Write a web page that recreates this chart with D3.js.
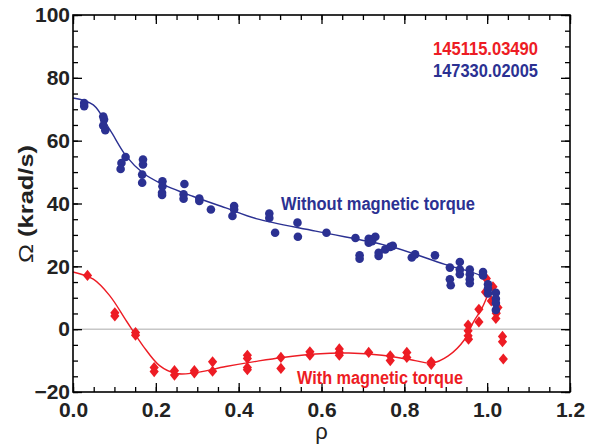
<!DOCTYPE html>
<html>
<head>
<meta charset="utf-8">
<script src="https://cdn.jsdelivr.net/npm/d3@7"></script>
<style>
  body { margin: 0; background: #fff; }
  svg { font-family: "Liberation Sans", Arial, sans-serif; }
</style>
</head>
<body>
<svg width="597" height="445"></svg>
<script>
// measured points, without magnetic torque (shot 147330)
const blueRho = [0.027, 0.027, 0.073, 0.075, 0.073, 0.078, 0.127, 0.117, 0.115, 0.169, 0.169, 0.167, 0.167,
  0.216, 0.216, 0.215, 0.215, 0.269, 0.267, 0.267, 0.305, 0.305, 0.333, 0.389, 0.389, 0.385,
  0.474, 0.474, 0.488, 0.542, 0.543, 0.612, 0.682, 0.692, 0.692, 0.714, 0.722, 0.730, 0.714, 0.722,
  0.738, 0.738, 0.754, 0.766, 0.772, 0.818, 0.826, 0.874, 0.910, 0.910, 0.912, 0.934, 0.934, 0.934,
  0.958, 0.958, 0.958, 0.958, 0.990, 0.990, 1.002, 1.002, 1.002, 1.021, 1.021, 1.021, 1.021]
const blueOmega = [72.0, 71.0, 67.7, 66.7, 64.8, 63.3, 54.8, 52.9, 51.0, 54.0, 52.4, 49.2, 46.6,
  47.1, 45.5, 43.4, 42.7, 46.2, 42.9, 41.5, 41.6, 40.8, 38.1, 39.2, 38.1, 36.0,
  36.8, 35.4, 30.7, 33.9, 29.4, 30.7, 29.0, 23.5, 22.4, 28.8, 28.6, 29.4, 27.5, 28.0,
  24.3, 23.3, 25.4, 26.2, 26.5, 22.8, 23.8, 23.5, 19.6, 15.9, 14.0, 21.4, 19.0, 17.5,
  19.0, 17.5, 15.9, 14.6, 18.2, 17.1, 14.3, 12.9, 11.4, 11.6, 9.7, 8.3, 6.1]

// measured points, with magnetic torque (shot 145115)
const redRho = [0.035, 0.101, 0.101, 0.151, 0.151, 0.196, 0.196, 0.245, 0.245, 0.293, 0.293, 0.337, 0.337,
  0.421, 0.421, 0.421, 0.421, 0.502, 0.502, 0.572, 0.572, 0.643, 0.643, 0.643, 0.714, 0.766, 0.766,
  0.806, 0.806, 0.865, 0.865, 0.954, 0.954, 0.954, 0.955, 0.980, 0.980, 0.996, 0.998, 1.010, 1.014,
  1.022, 1.026, 1.021, 1.037, 1.037, 1.039]
const redOmega = [17.1, 5.2, 4.2, -1.1, -1.9, -12.2, -13.5, -13.2, -14.6, -13.2, -13.9, -10.4, -13.4,
  -8.3, -9.3, -12.2, -12.9, -9.0, -12.5, -7.2, -8.3, -6.3, -7.4, -8.3, -7.4, -8.5, -10.0,
  -7.4, -9.0, -10.4, -11.2, 1.3, -0.5, -2.1, -3.2, 6.3, 2.3, 11.8, 16.1, 9.0, 13.5,
  5.1, 6.9, 3.4, -2.3, -4.0, -9.5]

// fitted profiles
const blueFitRho = [0, 0.049, 0.089, 0.129, 0.169, 0.209, 0.289, 0.369, 0.442, 0.586, 0.746, 0.786, 0.898, 0.986, 1.005, 1.02]
const blueFitOmega = [73.6, 71.4, 63.5, 55.0, 49.7, 46.6, 42.3, 38.6, 35.2, 31.2, 27.0, 25.6, 20.6, 16.9, 14.5, 10]
const redFitRho = [0, 0.049, 0.089, 0.129, 0.169, 0.209, 0.249, 0.289, 0.369, 0.449, 0.506, 0.586, 0.666, 0.746, 0.826, 0.866, 0.906, 0.946, 0.966, 0.986, 1.002]
const redFitOmega = [18.2, 15.9, 10.6, 2.6, -5.3, -11.6, -14.1, -14.0, -11.9, -10.1, -9.0, -7.9, -7.6, -8.3, -10.0, -10.8, -8.5, -3.2, 2.1, 6.3, 11]

const xTicks = [0, 0.2, 0.4, 0.6, 0.8, 1.0, 1.2]
const yTicks = [-20, 0, 20, 40, 60, 80, 100]
const shots = ['145115.03490', '147330.02005']

const blue = '#2b3192', red = '#ed1c24'

const svg = d3.select('svg')
const mLeft = 73, mRight = 570, mTop = 15, mBottom = 392

const x = d3.scaleLinear().domain([0, 1.2]).range([mLeft, mRight])
const y = d3.scaleLinear().domain([-20, 100]).range([mBottom, mTop])

// zero line
svg.append('line')
    .attr('x1', mLeft).attr('x2', mRight)
    .attr('y1', y(0)).attr('y2', y(0))
    .attr('stroke', '#aaa').attr('stroke-width', 1)

const line = d3.line().x(d => x(d[0])).y(d => y(d[1])).curve(d3.curveCatmullRom)

svg.append('path')
    .datum(redFitRho.map((r, i) => [r, redFitOmega[i]]))
    .attr('d', line)
    .attr('fill', 'none').attr('stroke', red).attr('stroke-width', 1.4)

svg.append('path')
    .datum(blueFitRho.map((r, i) => [r, blueFitOmega[i]]))
    .attr('d', line)
    .attr('fill', 'none').attr('stroke', blue).attr('stroke-width', 1.4)

// red diamonds
svg.append('g').selectAll('path')
    .data(redRho.map((r, i) => [r, redOmega[i]]))
    .enter().append('path')
    .attr('d', 'M0,-5.6L4.6,0L0,5.6L-4.6,0Z')
    .attr('transform', d => `translate(${x(d[0])},${y(d[1])})`)
    .attr('fill', red)

// blue circles
svg.append('g').selectAll('circle')
    .data(blueRho.map((r, i) => [r, blueOmega[i]]))
    .enter().append('circle')
    .attr('cx', d => x(d[0]))
    .attr('cy', d => y(d[1]))
    .attr('r', 4.3)
    .attr('fill', blue)

// axes, ticks pointing inward on all four sides
const xMinor = d3.range(0, 1.2001, 0.05)
const yMinor = d3.range(-20, 100.001, 5)

function styleAxis(g) {
    g.select('.domain').remove()
    g.selectAll('line').attr('stroke', '#000').attr('stroke-width', 1.3)
}

svg.append('g').attr('transform', `translate(0,${mBottom})`)
    .call(d3.axisBottom(x).tickValues(xMinor).tickSize(-5).tickFormat(''))
    .call(styleAxis)
svg.append('g').attr('transform', `translate(0,${mBottom})`)
    .call(d3.axisBottom(x).tickValues(xTicks).tickSize(-9).tickPadding(10).tickFormat(d3.format('.1f')))
    .call(styleAxis)
    .selectAll('text').attr('font-size', 21).attr('font-weight', 'bold').attr('fill', '#222')

svg.append('g').attr('transform', `translate(0,${mTop})`)
    .call(d3.axisTop(x).tickValues(xMinor).tickSize(-5).tickFormat(''))
    .call(styleAxis)
svg.append('g').attr('transform', `translate(0,${mTop})`)
    .call(d3.axisTop(x).tickValues(xTicks).tickSize(-9).tickFormat(''))
    .call(styleAxis)

svg.append('g').attr('transform', `translate(${mLeft},0)`)
    .call(d3.axisLeft(y).tickValues(yMinor).tickSize(-5).tickFormat(''))
    .call(styleAxis)
svg.append('g').attr('transform', `translate(${mLeft},0)`)
    .call(d3.axisLeft(y).tickValues(yTicks).tickSize(-9).tickPadding(3).tickFormat(d3.format('d')))
    .call(styleAxis)
    .selectAll('text').attr('font-size', 21).attr('font-weight', 'bold').attr('fill', '#222')

svg.append('g').attr('transform', `translate(${mRight},0)`)
    .call(d3.axisRight(y).tickValues(yMinor).tickSize(-5).tickFormat(''))
    .call(styleAxis)
svg.append('g').attr('transform', `translate(${mRight},0)`)
    .call(d3.axisRight(y).tickValues(yTicks).tickSize(-9).tickFormat(''))
    .call(styleAxis)

// frame
svg.append('rect')
    .attr('x', mLeft).attr('y', mTop)
    .attr('width', mRight - mLeft).attr('height', mBottom - mTop)
    .attr('fill', 'none').attr('stroke', '#000').attr('stroke-width', 1.6)

// axis titles
svg.append('text')
    .attr('x', (mLeft + mRight) / 2).attr('y', 439)
    .attr('text-anchor', 'middle')
    .attr('font-size', 22).attr('fill', '#222')
    .text('ρ')

const yl = svg.append('text')
    .attr('transform', 'translate(33,204) rotate(-90)')
    .attr('text-anchor', 'middle')
    .attr('font-size', 21).attr('fill', '#222')
    .attr('textLength', 118).attr('lengthAdjust', 'spacingAndGlyphs')
yl.append('tspan').text('Ω ')
yl.append('tspan').attr('font-weight', 'bold').text('(krad/s)')

// labels
svg.append('text')
    .attr('x', 281).attr('y', 210)
    .attr('font-size', 18).attr('font-weight', 'bold').attr('fill', blue)
    .attr('textLength', 194).attr('lengthAdjust', 'spacingAndGlyphs')
    .text('Without magnetic torque')

svg.append('text')
    .attr('x', 297).attr('y', 384)
    .attr('font-size', 18).attr('font-weight', 'bold').attr('fill', red)
    .attr('textLength', 166).attr('lengthAdjust', 'spacingAndGlyphs')
    .text('With magnetic torque')

svg.selectAll('.shot')
    .data(shots)
    .enter().append('text')
    .attr('class', 'shot')
    .attr('x', 433).attr('y', (d, i) => 55 + i * 22)
    .attr('font-size', 18).attr('font-weight', 'bold')
    .attr('fill', (d, i) => i === 0 ? red : blue)
    .attr('textLength', 105).attr('lengthAdjust', 'spacingAndGlyphs')
    .text(d => d)
</script>
</body>
</html>
